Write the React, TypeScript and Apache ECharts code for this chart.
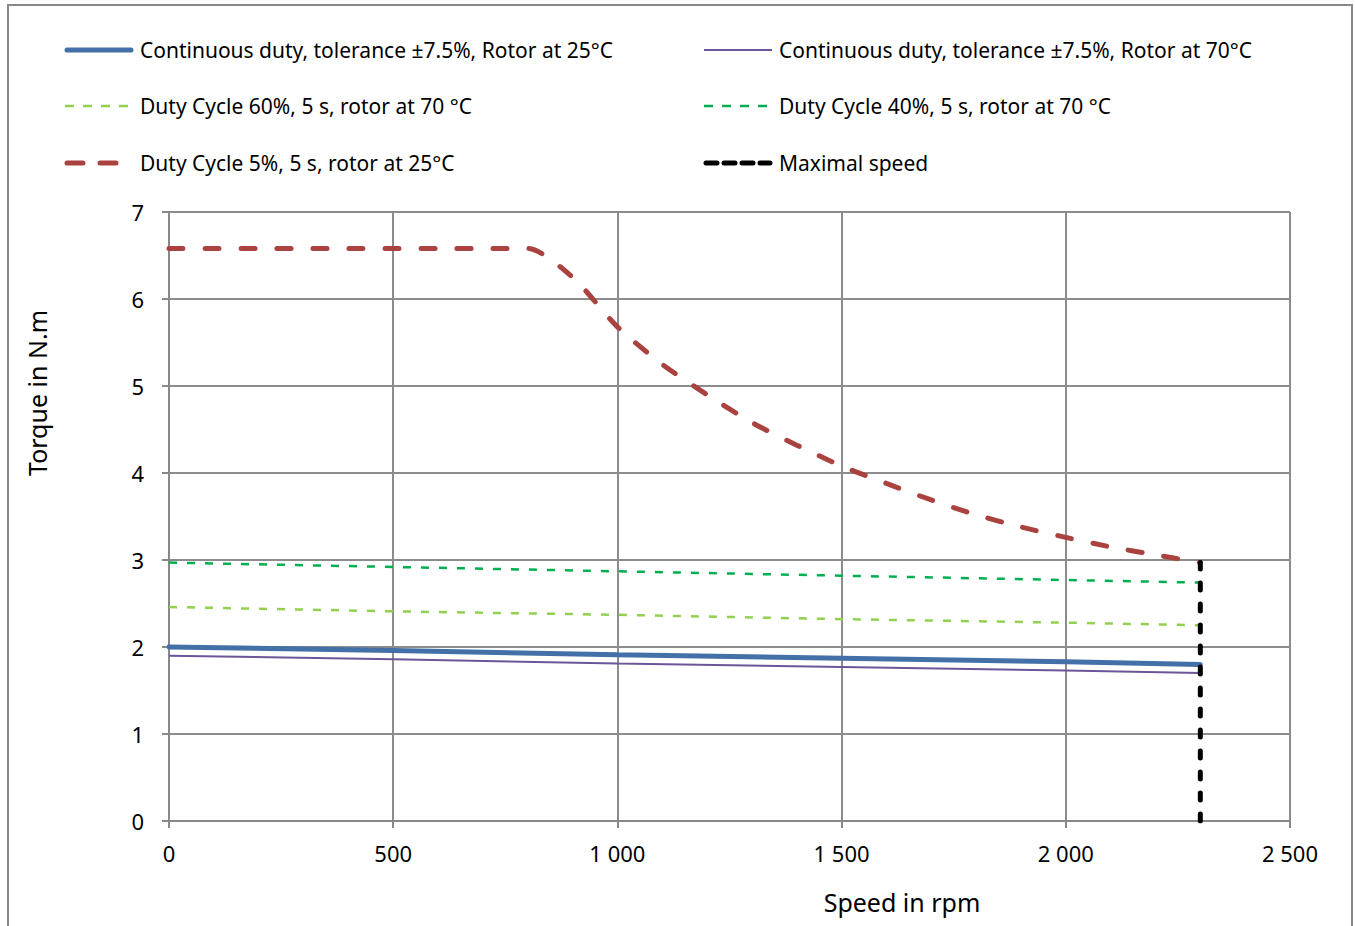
import React, { useEffect, useRef } from "react";
import * as echarts from "echarts";

const FONT = "'Noto Sans', 'Open Sans', sans-serif";

const names = [
  "Continuous duty, tolerance ±7.5%, Rotor at 25°C",
  "Continuous duty, tolerance ±7.5%, Rotor at 70°C",
  "Duty Cycle 60%, 5 s, rotor at 70 °C",
  "Duty Cycle 40%, 5 s, rotor at 70 °C",
  "Duty Cycle 5%, 5 s, rotor at 25°C",
  "Maximal speed",
];

const speedsLinear = [0, 500, 1000, 1500, 2000, 2300];
const cont25 = [2.0, 1.96, 1.91, 1.87, 1.83, 1.8];
const cont70 = [1.9, 1.86, 1.81, 1.77, 1.73, 1.7];
const duty60 = [2.46, 2.41, 2.37, 2.32, 2.28, 2.25];
const duty40 = [2.97, 2.92, 2.87, 2.82, 2.77, 2.74];

const speedsDuty5 = [0, 100, 200, 300, 400, 500, 600, 700, 800, 900, 1000, 1100, 1200, 1300, 1400, 1500, 1600, 1700, 1800, 1900, 2000, 2100, 2200, 2300];
const duty5 = [6.58, 6.58, 6.58, 6.58, 6.58, 6.58, 6.58, 6.58, 6.58, 6.25, 5.68, 5.25, 4.9, 4.58, 4.32, 4.08, 3.88, 3.69, 3.52, 3.38, 3.26, 3.15, 3.06, 2.97];

const maxSpeedX = [2300, 2300];
const maxSpeedY = [0, 2.97];

const colors = ["#4470A8", "#6A5698", "#92D050", "#00B050", "#AA423F", "#000000"];

const zip = (xs: number[], ys: number[]) => xs.map((x, i) => [x, ys[i]]);

const fmtThousands = (v: number) => {
  const s = String(Math.round(v));
  return s.replace(/\B(?=(\d{3})+(?!\d))/g, " ");
};

const lineStyles: any[] = [
  { width: 5, type: "solid", cap: "round" },
  { width: 2, type: "solid" },
  { width: 2.5, type: [8, 10] },
  { width: 2.5, type: [8, 10] },
  { width: 5, type: [14, 22], cap: "round" },
  { width: 5, type: [7, 14], cap: "round" },
];

const legendDash: any[] = [
  { x1: 67, x2: 131, dash: null, cap: "round" },
  { x1: 704, x2: 772, dash: null, cap: "butt" },
  { x1: 65, x2: 133, dash: [9, 9], cap: "butt" },
  { x1: 704, x2: 772, dash: [9, 9], cap: "butt" },
  { x1: 67, x2: 116, dash: [16, 17], cap: "round" },
  { x1: 706, x2: 770, dash: [11, 7], cap: "round" },
];
const legendPos = [
  [65, 50],
  [704, 50],
  [65, 106],
  [704, 106],
  [65, 163],
  [704, 163],
];

export default function App() {
  const ref = useRef<HTMLDivElement>(null);
  useEffect(() => {
    if (!ref.current) return;
    const chart = echarts.init(ref.current, undefined, { renderer: "svg" });
    const lineSeries = (i: number, data: number[][], extra: any = {}) => ({
      name: names[i],
      type: "line",
      data,
      symbol: "none",
      color: colors[i],
      lineStyle: { color: colors[i], ...lineStyles[i] },
      z: 3 + i,
      ...extra,
    });
    const legendGraphics: any[] = [];
    names.forEach((n, i) => {
      const [lx, cy] = legendPos[i];
      const d = legendDash[i];
      legendGraphics.push({
        type: "line",
        shape: { x1: d.x1, y1: cy, x2: d.x2, y2: cy },
        style: {
          stroke: colors[i],
          lineWidth: lineStyles[i].width,
          lineDash: d.dash,
          lineCap: d.cap,
        },
        silent: true,
      });
      legendGraphics.push({
        type: "text",
        x: lx + 75,
        y: cy,
        style: {
          text: n,
          fontFamily: FONT,
          fontSize: 21,
          fill: "#000",
          textAlign: "left",
          textVerticalAlign: "middle",
        },
        silent: true,
      });
    });
    chart.setOption({
      animation: false,
      backgroundColor: "#fff",
      grid: { left: 169, top: 212, right: 65, bottom: 105, containLabel: false },
      xAxis: {
        type: "value",
        min: 0,
        max: 2500,
        interval: 500,
        axisLine: { show: true, lineStyle: { color: "#888", width: 2 } },
        axisTick: { show: true, length: 7, lineStyle: { color: "#888", width: 2 } },
        axisLabel: {
          margin: 21,
          fontFamily: FONT,
          fontSize: 22,
          color: "#000",
          formatter: (v: number) => fmtThousands(v),
        },
        splitLine: { show: true, lineStyle: { color: "#8c8c8c", width: 2 } },
      },
      yAxis: {
        type: "value",
        min: 0,
        max: 7,
        interval: 1,
        axisLine: { show: true, lineStyle: { color: "#888", width: 2 } },
        axisTick: { show: true, length: 7, lineStyle: { color: "#888", width: 2 } },
        axisLabel: { margin: 25, fontFamily: FONT, fontSize: 22, color: "#000" },
        splitLine: { show: true, lineStyle: { color: "#8c8c8c", width: 2 } },
      },
      series: [
        lineSeries(0, zip(speedsLinear, cont25)),
        lineSeries(1, zip(speedsLinear, cont70)),
        lineSeries(2, zip(speedsLinear, duty60)),
        lineSeries(3, zip(speedsLinear, duty40)),
        lineSeries(4, zip(speedsDuty5, duty5), { smooth: 0.25 }),
        lineSeries(5, zip(maxSpeedX, maxSpeedY)),
      ],
      graphic: [
        {
          type: "rect",
          shape: { x: 8, y: 5, width: 1344, height: 960 },
          style: { fill: "none", stroke: "#888", lineWidth: 2 },
          silent: true,
          z: 0,
        },
        ...legendGraphics,
        {
          type: "text",
          x: 37,
          y: 393,
          rotation: Math.PI / 2,
          style: {
            text: "Torque in N.m",
            fontFamily: FONT,
            fontSize: 25,
            fill: "#000",
            textAlign: "center",
            textVerticalAlign: "middle",
          },
        },
        {
          type: "text",
          x: 902,
          y: 902,
          style: {
            text: "Speed in rpm",
            fontFamily: FONT,
            fontSize: 25,
            fill: "#000",
            textAlign: "center",
            textVerticalAlign: "middle",
          },
        },
      ],
    });
    return () => chart.dispose();
  }, []);
  return (
    <div
      ref={ref}
      style={{ position: "fixed", left: 0, top: 0, width: 1355, height: 926, background: "#fff" }}
    />
  );
}
